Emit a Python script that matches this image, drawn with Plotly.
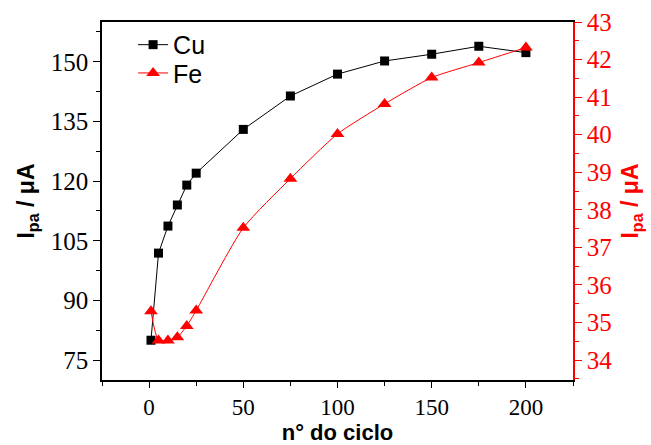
import plotly.graph_objects as go

# cycle number
cycles = [1, 5, 10, 15, 20, 25, 50, 75, 100, 125, 150, 175, 200]
# anodic peak current, Cu (left axis, μA)
cu_ipa = [80.0, 101.9, 108.7, 114.0, 119.0, 122.0, 133.0, 141.4, 146.9, 150.2, 151.9, 153.9, 152.3]
# anodic peak current, Fe (right axis, μA)
fe_ipa = [35.30, 34.52, 34.52, 34.61, 34.91, 35.32, 37.52, 38.83, 40.02, 40.82, 41.52, 41.92, 42.32]

x_ticks = [0, 50, 100, 150, 200]
cu_ticks = [75, 90, 105, 120, 135, 150]
fe_ticks = [34, 35, 36, 37, 38, 39, 40, 41, 42, 43]

SERIF = "Liberation Serif, Times New Roman, serif"
SANS = "Arial, Liberation Sans, sans-serif"
red = "#ff0000"

tick_font = dict(family=SERIF, size=25, color="black")
x_tick_font = dict(family=SERIF, size=23, color="black")
title_font = dict(family=SANS, size=23, color="black")
x_title_font = dict(family=SANS, size=22, color="black")
legend_font = dict(family=SANS, size=25, color="black")

fig = go.Figure()
fig.add_trace(go.Scatter(
    x=cycles, y=cu_ipa, name="Cu", mode="lines+markers",
    line=dict(color="black", width=1),
    marker=dict(symbol="square", size=9, color="black"),
    yaxis="y", legend="legend",
))
fig.add_trace(go.Scatter(
    x=cycles, y=fe_ipa, name="Fe", mode="lines+markers",
    line=dict(color=red, width=1, shape="spline", smoothing=0.6),
    marker=dict(symbol="triangle-up", size=12, color=red),
    yaxis="y2", legend="legend2",
))

legend_common = dict(
    x=0.066, xanchor="left", yanchor="middle",
    font=legend_font, bgcolor="rgba(0,0,0,0)",
)

fig.update_layout(
    width=651, height=445,
    margin=dict(l=102, r=78, t=22, b=65, autoexpand=False),
    paper_bgcolor="white", plot_bgcolor="white",
    font=dict(family=SANS, size=21, color="black"),
    showlegend=True,
    legend=dict(y=0.936, **legend_common),
    legend2=dict(y=0.857, **legend_common),
    xaxis=dict(
        range=[-25, 225], tickvals=x_ticks, automargin=False,
        showgrid=False, zeroline=False,
        showline=True, linecolor="black", linewidth=1.5, mirror=True,
        ticks="outside", ticklen=6, tickwidth=1.2, tickcolor="black",
        minor=dict(dtick=25, tick0=0, ticks="outside", ticklen=4, tickcolor="black"),
        tickfont=x_tick_font,
        title=dict(text="<b>n° do ciclo</b>", font=x_title_font, standoff=4),
    ),
    yaxis=dict(
        range=[70, 160], tickvals=cu_ticks, automargin=False,
        showgrid=False, zeroline=False,
        showline=True, linecolor="black", linewidth=1.5,
        ticks="outside", ticklen=7, tickwidth=1.2, tickcolor="black",
        minor=dict(dtick=7.5, tick0=0, ticks="outside", ticklen=4, tickcolor="black"),
        tickfont=tick_font,
        title=dict(text="<b>I<sub>pa</sub> / μA</b>", font=title_font, standoff=10),
    ),
    yaxis2=dict(
        range=[33.47, 43], tickvals=fe_ticks, automargin=False,
        overlaying="y", side="right", anchor="x",
        showgrid=False, zeroline=False,
        showline=True, linecolor=red, linewidth=1.5,
        ticks="outside", ticklen=7, tickwidth=1.2, tickcolor=red,
        minor=dict(dtick=0.5, tick0=0, ticks="outside", ticklen=4, tickcolor=red),
        tickfont=dict(family=SERIF, size=25, color=red),
        title=dict(text="<b>I<sub>pa</sub> / μA</b>",
                   font=dict(family=SANS, size=23, color=red), standoff=11),
    ),
)

fig.write_html("out.html")
